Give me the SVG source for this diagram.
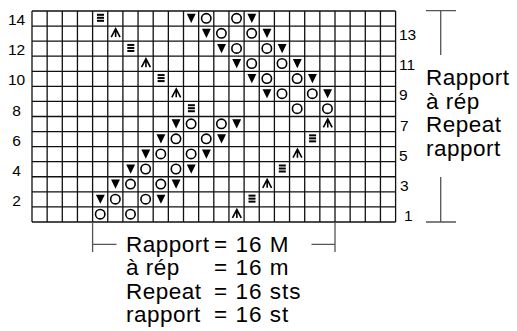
<svg xmlns="http://www.w3.org/2000/svg" width="517" height="331" viewBox="0 0 517 331">
<style>
text{font-family:"Liberation Sans",Arial,sans-serif;fill:#000}
.num{font-size:15.5px}
.lbl{font-size:22.5px;letter-spacing:0.5px}
.eq{letter-spacing:1px}
.grid{fill:none;stroke:#111;stroke-width:1.3}
.br{fill:none;stroke:#555;stroke-width:1.3}
</style>
<defs>
<g id="tri"><polygon points="3.3,2.8 12.2,2.8 7.75,12" fill="#000"/></g>
<g id="circ"><circle cx="7.6" cy="7.3" r="4.7" fill="none" stroke="#000" stroke-width="1.6"/></g>
<g id="dec"><rect x="4.4" y="2.8" width="7" height="2" fill="#000"/><rect x="4.4" y="5.8" width="7" height="2" fill="#000"/><rect x="4.4" y="8.8" width="7" height="2" fill="#000"/></g>
<g id="up"><path d="M3.5,11 L7.9,2.6 L12.3,11 M7.9,2.6 V11" fill="none" stroke="#000" stroke-width="1.6"/></g>
</defs>
<rect width="517" height="331" fill="#fff"/>
<g id="grid">
<path class="grid" d="M32,11V222M47.15,11V222M62.3,11V222M77.45,11V222M92.6,11V222M107.75,11V222M122.9,11V222M138.05,11V222M153.2,11V222M168.35,11V222M183.5,11V222M198.65,11V222M213.8,11V222M228.95,11V222M244.1,11V222M259.25,11V222M274.4,11V222M289.55,11V222M304.7,11V222M319.85,11V222M335,11V222M350.15,11V222M365.3,11V222M380.45,11V222M395.6,11V222
M32,11H395.6M32,26.07H395.6M32,41.14H395.6M32,56.21H395.6M32,71.28H395.6M32,86.35H395.6M32,101.42H395.6M32,116.49H395.6M32,131.56H395.6M32,146.63H395.6M32,161.7H395.6M32,176.77H395.6M32,191.84H395.6M32,206.91H395.6M32,221.98H395.6"/>
</g>
<g id="symbols">
<use href="#dec" x="92.6" y="11"/><use href="#tri" x="183.5" y="11"/><use href="#circ" x="198.65" y="11"/><use href="#circ" x="228.95" y="11"/><use href="#tri" x="244.1" y="11"/>
<use href="#up" x="107.75" y="26.07"/><use href="#tri" x="198.65" y="26.07"/><use href="#circ" x="213.8" y="26.07"/><use href="#circ" x="244.1" y="26.07"/><use href="#tri" x="259.25" y="26.07"/>
<use href="#dec" x="122.9" y="41.14"/><use href="#tri" x="213.8" y="41.14"/><use href="#circ" x="228.95" y="41.14"/><use href="#circ" x="259.25" y="41.14"/><use href="#tri" x="274.4" y="41.14"/>
<use href="#up" x="138.05" y="56.21"/><use href="#tri" x="228.95" y="56.21"/><use href="#circ" x="244.1" y="56.21"/><use href="#circ" x="274.4" y="56.21"/><use href="#tri" x="289.55" y="56.21"/>
<use href="#dec" x="153.2" y="71.28"/><use href="#tri" x="244.1" y="71.28"/><use href="#circ" x="259.25" y="71.28"/><use href="#circ" x="289.55" y="71.28"/><use href="#tri" x="304.7" y="71.28"/>
<use href="#up" x="168.35" y="86.35"/><use href="#tri" x="259.25" y="86.35"/><use href="#circ" x="274.4" y="86.35"/><use href="#circ" x="304.7" y="86.35"/><use href="#tri" x="319.85" y="86.35"/>
<use href="#dec" x="183.5" y="101.42"/><use href="#circ" x="289.55" y="101.42"/><use href="#circ" x="319.85" y="101.42"/>
<use href="#tri" x="168.35" y="116.49"/><use href="#circ" x="183.5" y="116.49"/><use href="#circ" x="213.8" y="116.49"/><use href="#tri" x="228.95" y="116.49"/><use href="#up" x="319.85" y="116.49"/>
<use href="#tri" x="153.2" y="131.56"/><use href="#circ" x="168.35" y="131.56"/><use href="#circ" x="198.65" y="131.56"/><use href="#tri" x="213.8" y="131.56"/><use href="#dec" x="304.7" y="131.56"/>
<use href="#tri" x="138.05" y="146.63"/><use href="#circ" x="153.2" y="146.63"/><use href="#circ" x="183.5" y="146.63"/><use href="#tri" x="198.65" y="146.63"/><use href="#up" x="289.55" y="146.63"/>
<use href="#tri" x="122.9" y="161.7"/><use href="#circ" x="138.05" y="161.7"/><use href="#circ" x="168.35" y="161.7"/><use href="#tri" x="183.5" y="161.7"/><use href="#dec" x="274.4" y="161.7"/>
<use href="#tri" x="107.75" y="176.77"/><use href="#circ" x="122.9" y="176.77"/><use href="#circ" x="153.2" y="176.77"/><use href="#tri" x="168.35" y="176.77"/><use href="#up" x="259.25" y="176.77"/>
<use href="#tri" x="92.6" y="191.84"/><use href="#circ" x="107.75" y="191.84"/><use href="#circ" x="138.05" y="191.84"/><use href="#tri" x="153.2" y="191.84"/><use href="#dec" x="244.1" y="191.84"/>
<use href="#circ" x="92.6" y="206.91"/><use href="#circ" x="122.9" y="206.91"/><use href="#up" x="228.95" y="206.91"/>
</g>
<g id="row-numbers-left" text-anchor="middle">
<text class="num" x="16.5" y="25.2">14</text>
<text class="num" x="16.5" y="55.3">12</text>
<text class="num" x="16.5" y="85.4">10</text>
<text class="num" x="16.5" y="115.5">8</text>
<text class="num" x="16.5" y="145.6">6</text>
<text class="num" x="16.5" y="175.7">4</text>
<text class="num" x="16.5" y="205.8">2</text>
</g>
<g id="row-numbers-right">
<text class="num" x="399" y="40.2">13</text>
<text class="num" x="399" y="70.3">11</text>
<text class="num" x="399" y="100.4">9</text>
<text class="num" x="400" y="130.5">7</text>
<text class="num" x="399" y="160.6">5</text>
<text class="num" x="400" y="190.7">3</text>
<text class="num" x="404" y="221">1</text>
</g>
<g id="connectors">
<path class="br" d="M426,10.7H456M440.7,10.7V55"/>
<path class="br" d="M440.7,177V222M426,222H456"/>
<path class="br" d="M92.6,222V252M92.6,244.3H116.5"/>
<path class="br" d="M335,222V252M311.5,244.3H335"/>
</g>
<g id="label-right">
<text class="lbl" x="426" y="85">Rapport</text>
<text class="lbl" x="426" y="108.5">à rép</text>
<text class="lbl" x="426" y="132">Repeat</text>
<text class="lbl" x="426" y="155.5">rapport</text>
</g>
<g id="label-bottom">
<text class="lbl" x="126" y="252">Rapport</text><text class="lbl eq" x="214" y="252">= 16 M</text>
<text class="lbl" x="126" y="275.3">à rép</text><text class="lbl eq" x="214" y="275.3">= 16 m</text>
<text class="lbl" x="126" y="298.6">Repeat</text><text class="lbl eq" x="214" y="298.6">= 16 sts</text>
<text class="lbl" x="126" y="322">rapport</text><text class="lbl eq" x="214" y="322">= 16 st</text>
</g>
</svg>
